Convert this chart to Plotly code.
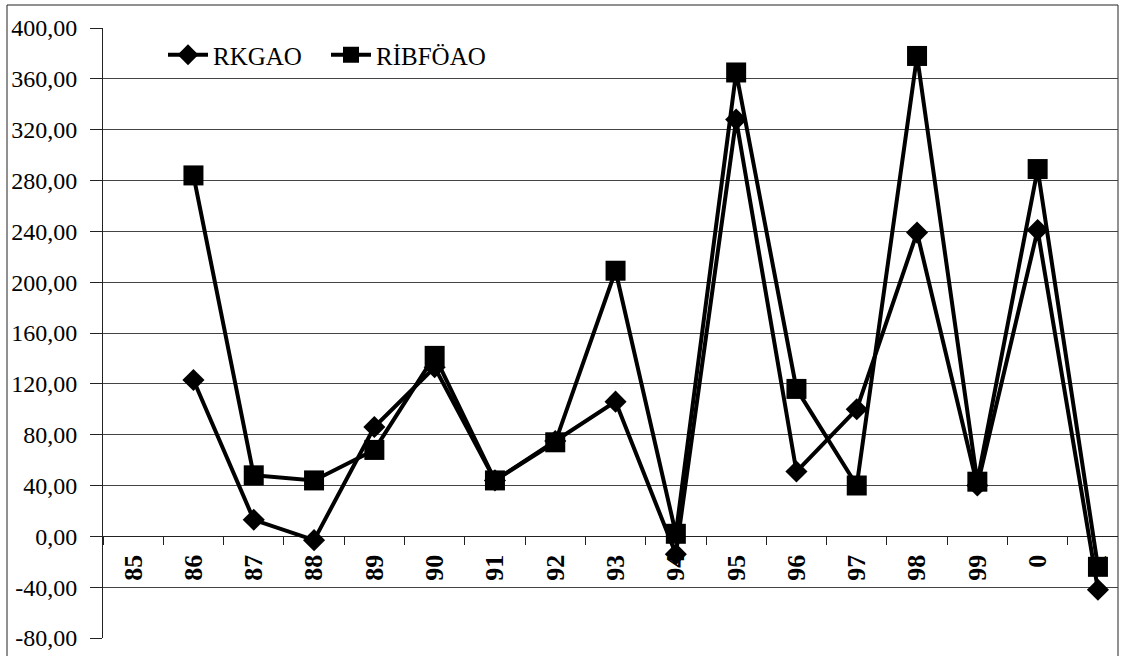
import plotly.graph_objects as go

# Year labels (two-digit) and series values
years = ["85", "86", "87", "88", "89", "90", "91", "92", "93", "94",
         "95", "96", "97", "98", "99", "0", "1"]
rkgao = [None, 123, 13, -3, 86, 133, 44, 75, 106, -14,
         328, 51, 100, 239, 40, 241, -42]
ribfoao = [None, 284, 48, 44, 68, 142, 44, 74, 209, 2,
           365, 116, 40, 378, 43, 289, -24]

y_ticks = [-80, -40, 0, 40, 80, 120, 160, 200, 240, 280, 320, 360, 400]
y_tick_text = [f"{v:.2f}".replace(".", ",") for v in y_ticks]

W, H = 1121, 656
ML, MR, MT, MB = 103, 3, 28, 18
plot_w = W - ML - MR
plot_h = H - MT - MB
cat_px = 60.3
y_min, y_max = -80, 400

serif = "Liberation Serif"

fig = go.Figure()
fig.add_trace(go.Scatter(
    x=years, y=rkgao, name="RKGAO", mode="lines+markers",
    line=dict(color="black", width=4),
    marker=dict(symbol="diamond", size=17, color="black"),
))
fig.add_trace(go.Scatter(
    x=years, y=ribfoao, name="RİBFÖAO", mode="lines+markers",
    line=dict(color="black", width=4),
    marker=dict(symbol="square", size=20, color="black"),
))

# outer chart-area frame
fig.add_shape(type="rect", xref="paper", yref="paper",
              x0=(7 - ML) / plot_w, x1=(1118 - ML) / plot_w,
              y0=-0.2, y1=(H - MB - 5) / plot_h,
              line=dict(color="#222", width=1), fillcolor="rgba(0,0,0,0)",
              layer="below")

fig.update_layout(
    width=W, height=H,
    margin=dict(l=ML, r=MR, t=MT, b=MB, pad=0),
    paper_bgcolor="white", plot_bgcolor="white",
    font=dict(family=serif, color="black"),
    showlegend=True,
    legend=dict(
        orientation="h", x=(163 - ML) / plot_w, y=(H - MB - 55) / plot_h,
        xanchor="left", yanchor="middle",
        font=dict(family=serif, size=25, color="black"),
        bgcolor="rgba(0,0,0,0)", itemwidth=40, tracegroupgap=0,
        entrywidth=108, entrywidthmode="pixels",
    ),
    xaxis=dict(
        type="category",
        range=[-0.5, -0.5 + plot_w / cat_px],
        anchor="free", position=(0 - y_min) / (y_max - y_min),
        showgrid=False, zeroline=False,
        showline=True, linecolor="#222", linewidth=1,
        ticks="outside", ticklen=8, tickcolor="#222", tickson="boundaries",
        tickangle=-90,
        tickfont=dict(family=serif, size=26, color="black", weight="bold"),
        ticklabelstandoff=7,
        layer="below traces",
    ),
    yaxis=dict(
        range=[y_min, y_max],
        tickvals=y_ticks, ticktext=y_tick_text,
        showgrid=True, gridcolor="#444", gridwidth=1,
        zeroline=False,
        showline=True, linecolor="#222", linewidth=1,
        ticks="outside", ticklen=12, tickcolor="#222",
        tickfont=dict(family=serif, size=24, color="black"),
        ticklabelstandoff=8,
    ),
)

fig.write_html("out.html")
